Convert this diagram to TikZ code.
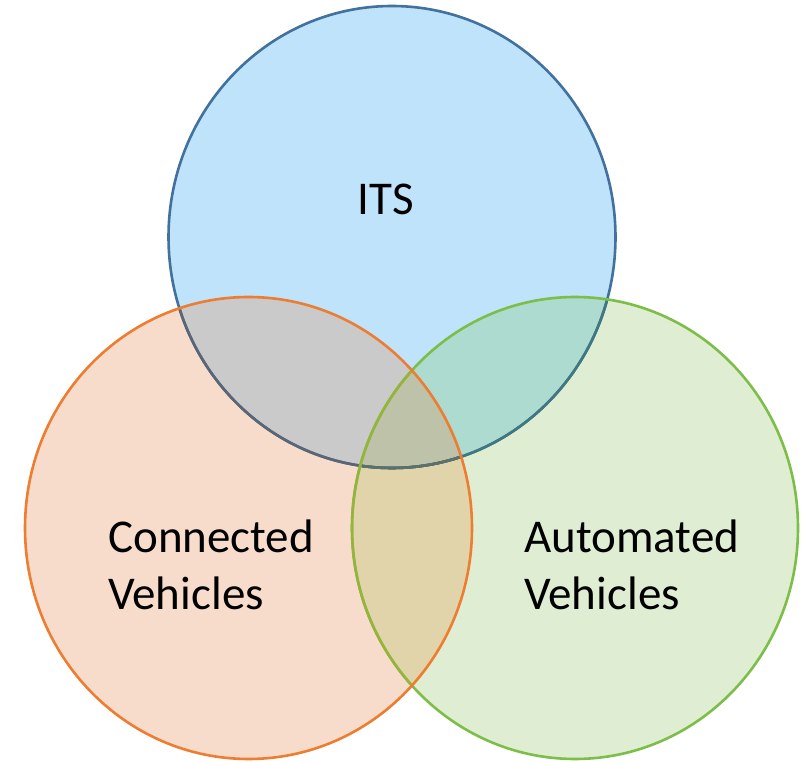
\documentclass[tikz,border=0pt]{standalone}
\usepackage{fontspec}
\setmainfont{Carlito}

% fills
\definecolor{itsfill}{RGB}{190,227,251}
\definecolor{confill}{RGB}{248,220,203}
\definecolor{autfill}{RGB}{223,238,211}
\definecolor{itsconfill}{RGB}{202,202,202}
\definecolor{itsautfill}{RGB}{173,219,208}
\definecolor{conautfill}{RGB}{225,211,170}
\definecolor{allfill}{RGB}{190,194,168}
% outlines
\definecolor{itsline}{RGB}{65,113,156}
\definecolor{itslinecon}{RGB}{90,102,118}
\definecolor{itslineaut}{RGB}{64,120,130}
\definecolor{itslineall}{RGB}{95,112,104}
\definecolor{conline}{RGB}{237,125,49}
\definecolor{autline}{RGB}{124,190,72}
\definecolor{autlinecon}{RGB}{150,180,60}

\tikzset{
  ring/.style={line width=2.6pt},
  label/.style={inner sep=0pt, font=\fontsize{47}{56}\selectfont, text=black},
}

\def\itsE{(392,524) ellipse [x radius=223.5, y radius=231]}
\def\conE{(248.5,233) ellipse [x radius=223.5, y radius=231]}
\def\autE{(575,233) ellipse [x radius=223, y radius=231]}

\begin{document}
\begin{tikzpicture}[x=1pt,y=1pt]
\useasboundingbox (0,0) rectangle (801,761);

% plain regions
\fill[itsfill] \itsE;
\fill[confill] \conE;
\fill[autfill] \autE;

% pairwise overlaps
\begin{scope}
  \clip \itsE;
  \fill[itsconfill] \conE;
  \fill[itsautfill] \autE;
\end{scope}
\begin{scope}
  \clip \conE;
  \fill[conautfill] \autE;
  \clip \itsE;
  \fill[allfill] \autE;
\end{scope}

% ITS outline, tinted where the other circles lie over it
\draw[ring, itsline] \itsE;
\begin{scope}
  \clip \conE;
  \draw[ring, itslinecon] \itsE;
\end{scope}
\begin{scope}
  \clip \autE;
  \draw[ring, itslineaut] \itsE;
\end{scope}
\begin{scope}
  \clip \conE;
  \clip \autE;
  \draw[ring, itslineall] \itsE;
\end{scope}

% Automated outline
\draw[ring, autline] \autE;
\begin{scope}
  \clip \conE;
  \draw[ring, autlinecon] \autE;
\end{scope}

% Connected outline
\draw[ring, conline] \conE;

% labels
\node[label, anchor=base] (its) at (386,546) {ITS};
\node[label, anchor=base west] (con1) at (108,208) {Connected};
\node[label, anchor=base west] (con2) at (108,151) {Vehicles};
\node[label, anchor=base west] (aut1) at (524,208) {Automated};
\node[label, anchor=base west] (aut2) at (524,151) {Vehicles};
\end{tikzpicture}
\end{document}
